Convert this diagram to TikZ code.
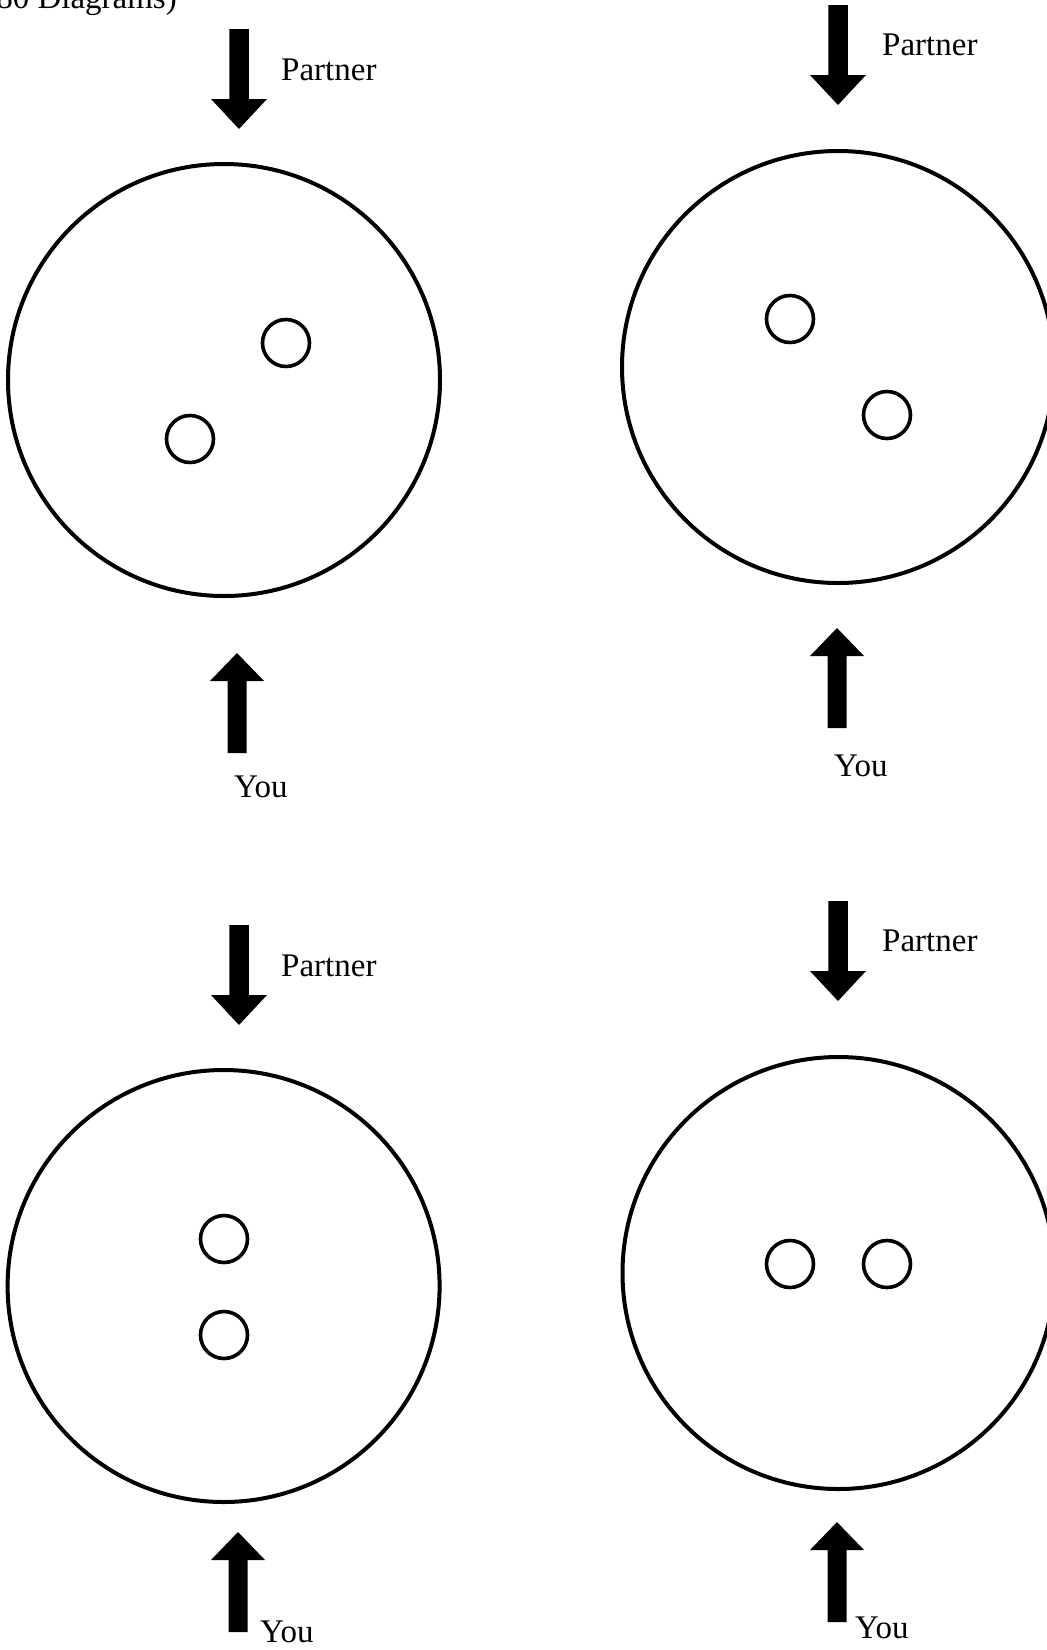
\documentclass[tikz,border=0pt]{standalone}
\usepackage{fontspec}
\setmainfont{Liberation Serif}
\begin{document}
\begin{tikzpicture}[x=1pt,y=-1pt,
  big/.style={line width=4pt},
  small/.style={line width=3.6pt},
  lbl/.style={font=\fontsize{33}{40}\selectfont, anchor=base west, inner sep=0pt},
  downarr/.pic={\fill (-9.75,0) -- (9.75,0) -- (9.75,70) -- (28,70) -- (0,100) -- (-28,70) -- (-9.75,70) -- cycle;},
  uparr/.pic={\fill (0,0) -- (27,28) -- (9.5,28) -- (9.5,100) -- (-9.5,100) -- (-9.5,28) -- (-27,28) -- cycle;}
]
\useasboundingbox (0,0) rectangle (1047,1650);
\clip (0,0) rectangle (1047,1650);

% header (clipped at the top edge, as in the reference)
\node[font=\fontsize{33}{40}\selectfont, anchor=base east, inner sep=0pt] (hdr) at (177,8) {(80 Diagrams)};

% ---------- top left ----------
\coordinate (tl) at (224,380);
\draw[big] (tl) circle (216);
\draw[small] (286,343) circle (23.5);
\draw[small] (190,439) circle (23.5);
\pic at (239,29) {downarr};
\pic at (237,653) {uparr};
\node[lbl] (tlp) at (281,80) {Partner};
\node[lbl] (tly) at (234,797) {You};

% ---------- top right ----------
\coordinate (tr) at (838,367);
\draw[big] (tr) circle (216);
\draw[small] (790,319) circle (23.5);
\draw[small] (887,415) circle (23.5);
\pic at (838,5) {downarr};
\pic at (837,628) {uparr};
\node[lbl] (trp) at (882,55) {Partner};
\node[lbl] (try) at (834,776) {You};

% ---------- bottom left ----------
\coordinate (bl) at (223.6,1286);
\draw[big] (bl) circle (216);
\draw[small] (224,1239) circle (23.5);
\draw[small] (224,1335) circle (23.5);
\pic at (239,925) {downarr};
\pic at (238,1532) {uparr};
\node[lbl] (blp) at (281,976) {Partner};
\node[lbl] (bly) at (260,1642) {You};

% ---------- bottom right ----------
\coordinate (br) at (838.5,1273);
\draw[big] (br) circle (216);
\draw[small] (790,1264) circle (23.5);
\draw[small] (887,1264) circle (23.5);
\pic at (838,901) {downarr};
\pic at (837,1522) {uparr};
\node[lbl] (brp) at (882,951) {Partner};
\node[lbl] (bry) at (855,1638) {You};
\end{tikzpicture}
\end{document}
